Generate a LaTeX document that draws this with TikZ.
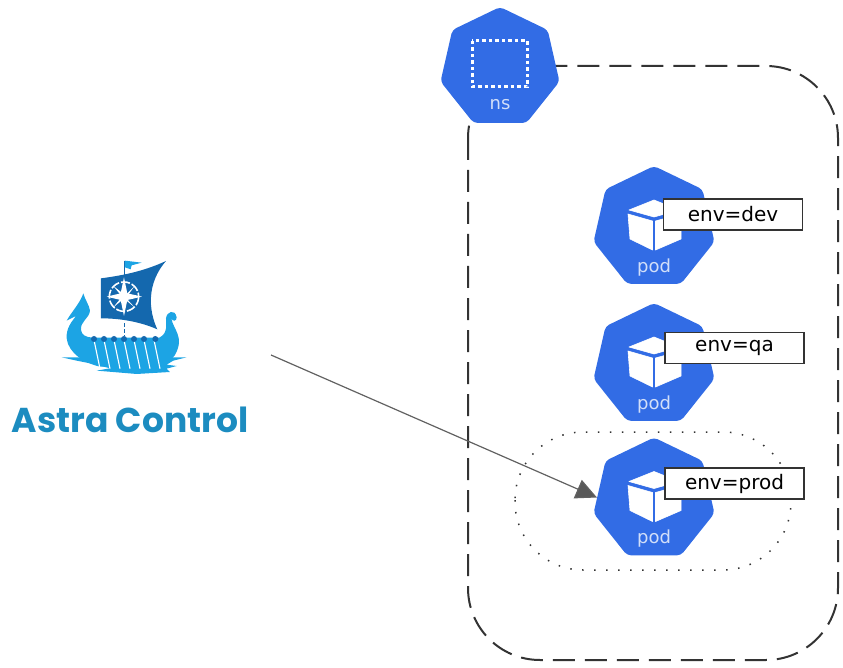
\documentclass[tikz,border=0pt]{standalone}
\usepackage{fontspec}
\setmainfont{DejaVu Sans}
\newfontfamily\logofont{Poppins}
\usetikzlibrary{shapes.geometric,arrows.meta}
\definecolor{kblue}{HTML}{326CE5}
\definecolor{hull}{HTML}{1CA4E4}
\definecolor{sail}{HTML}{1468AE}
\definecolor{logotext}{HTML}{1C8CC0}
\definecolor{lineg}{HTML}{333333}
\tikzset{
  hepta/.style={regular polygon,regular polygon sides=7,fill=kblue,minimum size=#1,inner sep=0pt,rounded corners=4pt},
  icontext/.style={text=white!78!kblue,inner sep=0pt,font=\fontsize{18}{20}\selectfont},
  envbox/.style={draw=lineg,line width=1.7pt,fill=white,minimum width=139pt,minimum height=31pt,inner sep=0pt,font=\fontsize{20}{22}\selectfont},
  face/.style={fill=white,draw=white,line width=.6pt,line join=round},
}
\newcommand{\podicon}[3]{%
  \node[hepta=124pt] (#1) at (#2,#3) {};
  \begin{scope}[shift={(#2,#3)}]
    \path[face] (-26,-14) -- (-1.5,-7) -- (-1.5,22) -- (-24,11) -- cycle;
    \path[face] (1.5,-7) -- (27,-14) -- (27,11) -- (1.5,22) -- cycle;
    \path[face] (0,-28) -- (25,-18) -- (0,-11) -- (-25,-18) -- cycle;
  \end{scope}
  \node[icontext] (#1text) at (#2,{#3+39.5}) {pod};
}
\begin{document}
\begin{tikzpicture}[x=1pt,y=-1pt]
\useasboundingbox (0,0) rectangle (843,668);
% namespace frame
\draw[lineg,line width=2pt,dash pattern=on 22pt off 10pt,rounded corners=72pt] (468,66) rectangle (838,660);
% namespace icon
\node[hepta=122pt] (ns) at (500,68) {};
\draw[white,line width=3pt,dash pattern=on 3.5pt off 3pt] (472,41) rectangle (527,87);
\node[icontext] (nstext) at (500,105) {ns};
% pods
\podicon{podA}{654}{228}
\podicon{podB}{654}{365}
\podicon{podC}{654}{499.5}
% selection
\draw[lineg,line width=1.5pt,dash pattern=on 1.5pt off 10.5pt,rounded corners=68pt] (515,432) rectangle (791,570);
% labels
\node[envbox] (envA) at (733,214.5) {env=dev};
\node[envbox] (envB) at (734.5,348) {env=qa};
\node[envbox] (envC) at (734.5,483.5) {env=prod};
% logo
\begin{scope}[shift={(0,240)},x=.3333pt,y=-.3333pt]
  % flag and pole
  \draw[sail,line width=1pt] (375,62) -- (375,118);
  \fill[hull] (375,62) -- (425,68) -- (395,76) -- (392,88) -- (375,82) -- cycle;
  % sail
  \fill[sail] (303,115) .. controls (380,105) and (440,90) .. (498,63)
     .. controls (440,130) and (445,210) .. (472,268)
     .. controls (420,245) and (360,235) .. (303,235) -- cycle;
  % compass
  \draw[white,line width=1.6pt,dash pattern=on 9pt off 2pt] (372,170) circle (44);
  \fill[white] (372,112) -- (382,160) -- (426,170) -- (382,180) -- (372,228) -- (362,180) -- (320,170) -- (362,160) -- cycle;
  \fill[white] (340,138) -- (376,166) -- (404,138) -- (378,174) -- (404,202) -- (372,176) -- (340,202) -- (366,170) -- cycle;
  % mast below sail
  \draw[sail,line width=1pt,dash pattern=on 4pt off 2pt] (375,250) -- (375,288);
  % hull
  \fill[hull] (250,160) .. controls (255,180) and (268,195) .. (270,212)
     .. controls (268,235) and (240,245) .. (243,270)
     .. controls (245,285) and (258,292) .. (278,293)
     -- (478,293)
     .. controls (505,280) and (498,250) .. (498,235)
     .. controls (500,215) and (525,205) .. (530,232)
     .. controls (530,245) and (518,245) .. (514,235)
     .. controls (520,270) and (555,290) .. (525,345)
     .. controls (510,365) and (490,378) .. (470,380)
     -- (300,380)
     .. controls (255,370) and (205,340) .. (200,295)
     .. controls (198,265) and (215,245) .. (228,228)
     -- (200,242)
     .. controls (215,215) and (240,190) .. (250,160) -- cycle;
  \fill[hull] (185,352) -- (560,352) -- (520,362) -- (500,374) -- (530,378) -- (500,386) -- (510,396) -- (410,402) -- (290,392) -- (330,385) -- (280,372) -- (230,362) -- cycle;
  \foreach \ox in {282,312,342,372,402,432,462}
    \draw[white,line width=1.1pt] (\ox,300) -- ({\ox+18},386);
  \foreach \ox in {282,312,342,372,402,432,466}
    \fill[sail] (\ox,297) circle (9);
\end{scope}
\node[inner sep=0pt,text=logotext,font=\logofont\bfseries\fontsize{34.5}{36}\selectfont] (astra) at (130,420) {Astra Control};
% connector
\coordinate (start) at (271,355);
\draw[draw=black!62,line width=1.2pt,-{Triangle[length=21pt,width=20pt,fill=black!65]}] (start) -- (podC.178);
\end{tikzpicture}
\end{document}
